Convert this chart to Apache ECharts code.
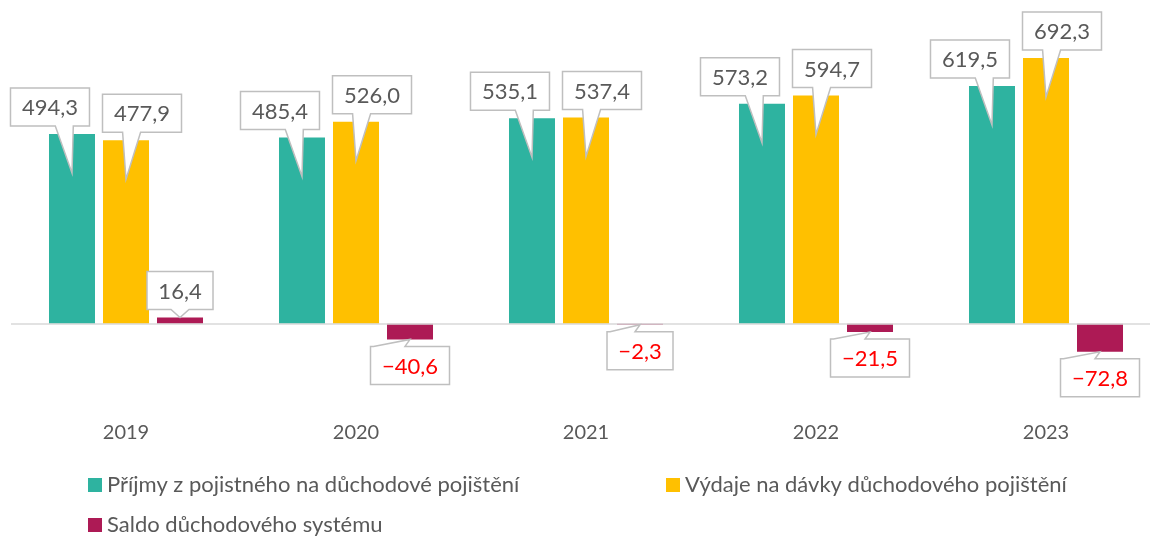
<!DOCTYPE html>
<html>
<head>
<meta charset="utf-8">
<script src="https://cdn.jsdelivr.net/npm/echarts@6/dist/echarts.min.js"></script>
<style>
  html, body { margin: 0; padding: 0; background: #fff; }
  #chart { width: 1150px; height: 537px; }
</style>
</head>
<body>
<div id="chart"></div>
<script>
// data (mld. Kč)
const years = ['2019', '2020', '2021', '2022', '2023'];
const income = [494.3, 485.4, 535.1, 573.2, 619.5];
const expenses = [477.9, 526.0, 537.4, 594.7, 692.3];
const balance = [16.4, -40.6, -2.3, -21.5, -72.8];
const seriesNames = [
    'Příjmy z pojistného na důchodové pojištění',
    'Výdaje na dávky důchodového pojištění',
    'Saldo důchodového systému'
];

const colors = ['#2EB3A0', '#FFC000', '#AD1A55'];
const textColor = '#595959';
const font = 'Lato, "Open Sans", sans-serif';

// horizontal shift of the callout box per series (teal left, yellow right)
const boxShift = [-22, 16, 0];

const measureCtx = document.createElement('canvas').getContext('2d');
const fmt = v => v.toFixed(1).replace('.', ',').replace('-', '\u2212');

// callout rows: [category index, value, series index]
const calloutData = [];
[income, expenses, balance].forEach((arr, s) => {
    arr.forEach((v, i) => calloutData.push([i, v, s]));
});

const renderCallout = (params, api) => {
    const cat = api.value(0);
    const val = api.value(1);
    const s = api.value(2);
    const band = api.size([1, 0])[0];
    const step = band * 0.2 * 1.174;
    const end = api.coord([cat, val]);
    const zero = api.coord([cat, 0]);
    const bx = end[0] + (s - 1) * step;

    const label = fmt(val);
    measureCtx.font = '22px ' + font;
    const w = Math.round(measureCtx.measureText(label).width + 23);
    const h = 38;
    let pts, cx, cy;

    if (val >= 0) {
        cx = bx + boxShift[s];
        const x0 = cx - w / 2, x1 = cx + w / 2;
        const y1 = end[1] - 8, y0 = y1 - h;
        const tipY = (zero[1] - end[1]) > 45 ? end[1] + 39 : end[1];
        const mid = bx + 0.35 * (cx - bx);
        pts = [[x0, y0], [x1, y0], [x1, y1], [mid + 9, y1], [bx, tipY], [mid - 9, y1], [x0, y1]];
        cy = (y0 + y1) / 2;
    } else {
        cx = bx;
        const x0 = cx - w / 2, x1 = cx + w / 2;
        const y0 = end[1] + 7, y1 = y0 + h;
        pts = [[x0, y0], [x0 + 3, y0], [bx, end[1]], [bx - 5, y0], [x1, y0], [x1, y1], [x0, y1]];
        cy = (y0 + y1) / 2;
    }

    return {
        type: 'group',
        children: [
            {
                type: 'polygon',
                shape: { points: pts },
                style: { fill: '#fff', stroke: '#BFBFBF', lineWidth: 1.5 }
            },
            {
                type: 'text',
                style: {
                    text: label,
                    x: cx,
                    y: cy + 1,
                    align: 'center',
                    verticalAlign: 'middle',
                    fill: val < 0 ? '#FF0000' : textColor,
                    font: '22px ' + font
                }
            }
        ]
    };
};

const legendItem = (name, left, top) => ({
    data: [name],
    left: left,
    top: top,
    padding: 0,
    icon: 'rect',
    itemWidth: 14,
    itemHeight: 14,
    itemGap: 0,
    selectedMode: false,
    textStyle: { color: textColor, fontSize: 22, fontFamily: font, lineHeight: 24 }
});

const chart = echarts.init(document.getElementById('chart'), null, { renderer: 'canvas' });

chart.setOption({
    animation: false,
    color: colors,
    grid: { left: 11, width: 1150, top: 55, height: 361, outerBoundsMode: 'none', containLabel: false },
    legend: [
        legendItem(seriesNames[0], 88, 473),
        legendItem(seriesNames[1], 666, 473),
        legendItem(seriesNames[2], 88, 513)
    ],
    xAxis: {
        type: 'category',
        data: years,
        axisLine: { show: false },
        axisTick: { show: false },
        axisLabel: { color: textColor, fontSize: 20, fontFamily: font, margin: 7 }
    },
    yAxis: {
        type: 'value',
        min: -240,
        max: 700,
        show: false
    },
    series: [
        {
            name: seriesNames[0],
            type: 'bar',
            data: income,
            barWidth: '20%',
            barGap: '17.4%',
            markLine: {
                silent: true,
                symbol: 'none',
                label: { show: false },
                lineStyle: { color: '#D9D9D9', width: 1.5, type: 'solid' },
                data: [{ yAxis: 0 }]
            }
        },
        { name: seriesNames[1], type: 'bar', data: expenses, barWidth: '20%', barGap: '17.4%' },
        { name: seriesNames[2], type: 'bar', data: balance, barWidth: '20%', barGap: '17.4%' },
        {
            name: 'popisky',
            type: 'custom',
            data: calloutData,
            encode: { x: 0, y: 1 },
            renderItem: renderCallout,
            clip: false,
            z: 5,
            silent: true
        }
    ]
});
</script>
</body>
</html>
